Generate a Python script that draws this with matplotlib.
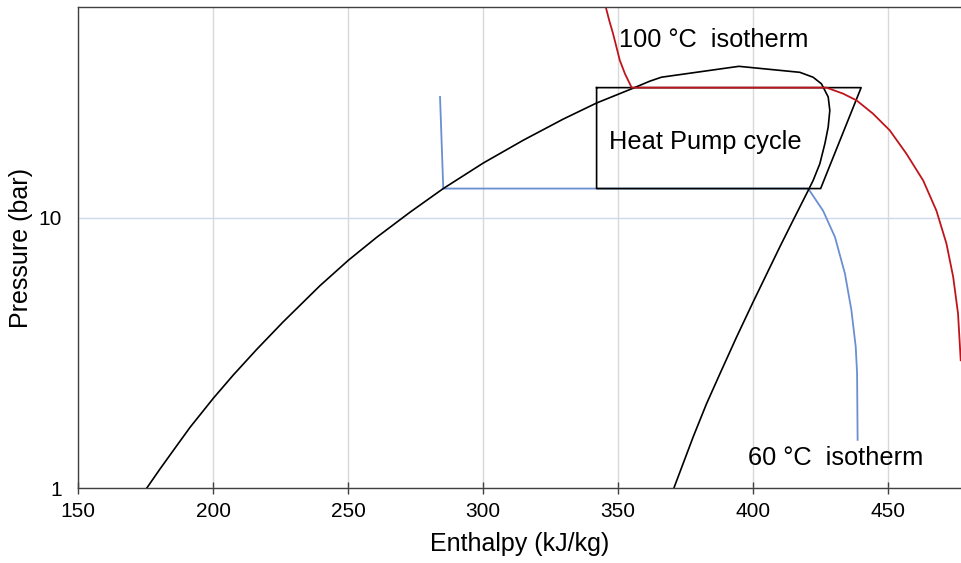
# plot.py
# Pressure-enthalpy diagram with saturation dome, two isotherms and the heat pump cycle.
import matplotlib
matplotlib.use("Agg")
import matplotlib.pyplot as plt
from matplotlib.ticker import NullLocator, FixedLocator, FixedFormatter

plt.rcParams["font.family"] = ["Liberation Sans", "DejaVu Sans"]

# saturation dome (liquid line -> critical region -> vapour line)
dome_h = [175.3, 180.3, 185.2, 191.4, 200.0, 207.4, 216.1, 225.9, 239.5, 250.0,
          260.5, 272.9, 285.2, 300.0, 314.8, 329.6, 342.0, 355.0, 361.7, 366.0,
          394.7, 417.3, 422.2, 425.3, 427.8, 428.4, 427.8, 426.6, 424.7, 422.2,
          420.4, 414.8, 409.9, 407.4, 400.0, 393.8, 387.7, 382.7, 377.8, 370.6]
dome_p = [1.0, 1.18, 1.38, 1.68, 2.15, 2.62, 3.26, 4.12, 5.60, 6.95,
          8.45, 10.47, 12.8, 15.9, 19.3, 23.1, 26.5, 29.9, 31.9, 33.0,
          36.2, 34.4, 33.0, 31.2, 27.9, 24.9, 21.6, 18.8, 15.8, 13.7,
          12.6, 9.77, 7.80, 6.93, 4.88, 3.61, 2.65, 2.05, 1.55, 1.0]

# 60 °C isotherm
iso60_h = [284.0, 285.2, 420.4, 425.9, 430.3, 434.0, 436.4, 438.0, 438.5, 438.7]
iso60_p = [27.9, 12.8, 12.8, 10.6, 8.48, 6.21, 4.55, 3.33, 2.66, 1.51]

# 100 °C isotherm
iso100_h = [345.4, 346.7, 348.1, 350.6, 352.5, 355.0, 427.2, 433.3, 438.3, 444.4,
            450.6, 456.8, 463.0, 467.9, 471.6, 474.1, 475.9, 476.9]
iso100_p = [59.9, 53.4, 47.8, 38.1, 34.0, 30.2, 30.2, 28.7, 27.1, 24.2,
            21.0, 17.2, 13.7, 10.6, 8.02, 6.04, 4.42, 2.97]

# heat pump cycle (closed)
cycle_h = [342.0, 440.0, 425.0, 342.0, 342.0]
cycle_p = [30.2, 30.2, 12.8, 12.8, 30.2]

x_ticks = [150, 200, 250, 300, 350, 400, 450]
y_ticks = [1, 10]

fig = plt.figure(figsize=(9.61, 5.63), dpi=100)
ax = fig.add_axes([0.0815, 0.1327, 0.9185, 0.855])

ax.plot(iso60_h, iso60_p, color="#6a8fd2", lw=1.3)
ax.plot(dome_h, dome_p, color="black", lw=1.2)
ax.plot(cycle_h, cycle_p, color="black", lw=1.2)
ax.plot(iso100_h, iso100_p, color="#c0141c", lw=1.3)

ax.text(350.4, 45.1, "100 °C  isotherm", fontsize=18.3, va="center", ha="left")
ax.text(346.7, 19.0, "Heat Pump cycle", fontsize=18.3, va="center", ha="left")
ax.text(398.2, 1.29, "60 °C  isotherm", fontsize=18.3, va="center", ha="left")

ax.set_yscale("log")
ax.set_xlim(150, 477)
ax.set_ylim(1, 60)
ax.xaxis.set_major_locator(FixedLocator(x_ticks))
ax.yaxis.set_major_locator(FixedLocator(y_ticks))
ax.yaxis.set_major_formatter(FixedFormatter([str(v) for v in y_ticks]))
ax.yaxis.set_minor_locator(NullLocator())

ax.grid(axis="x", color="#d9d9d9", lw=1.0)
ax.grid(axis="y", which="major", color="#cfd8ea", lw=1.0)
ax.set_axisbelow(True)

for side in ["left", "bottom", "top"]:
    ax.spines[side].set_color("#404040")
    ax.spines[side].set_linewidth(1.0)
ax.spines["right"].set_visible(False)

ax.tick_params(axis="x", direction="inout", length=8, width=1.0, color="#404040",
               labelsize=15, pad=6)
ax.tick_params(axis="y", length=0, labelsize=15, pad=12)

ax.set_xlabel("Enthalpy (kJ/kg)", fontsize=18, labelpad=8)
ax.set_ylabel("Pressure (bar)", fontsize=18, labelpad=4)

fig.savefig("out.png", dpi=100)
